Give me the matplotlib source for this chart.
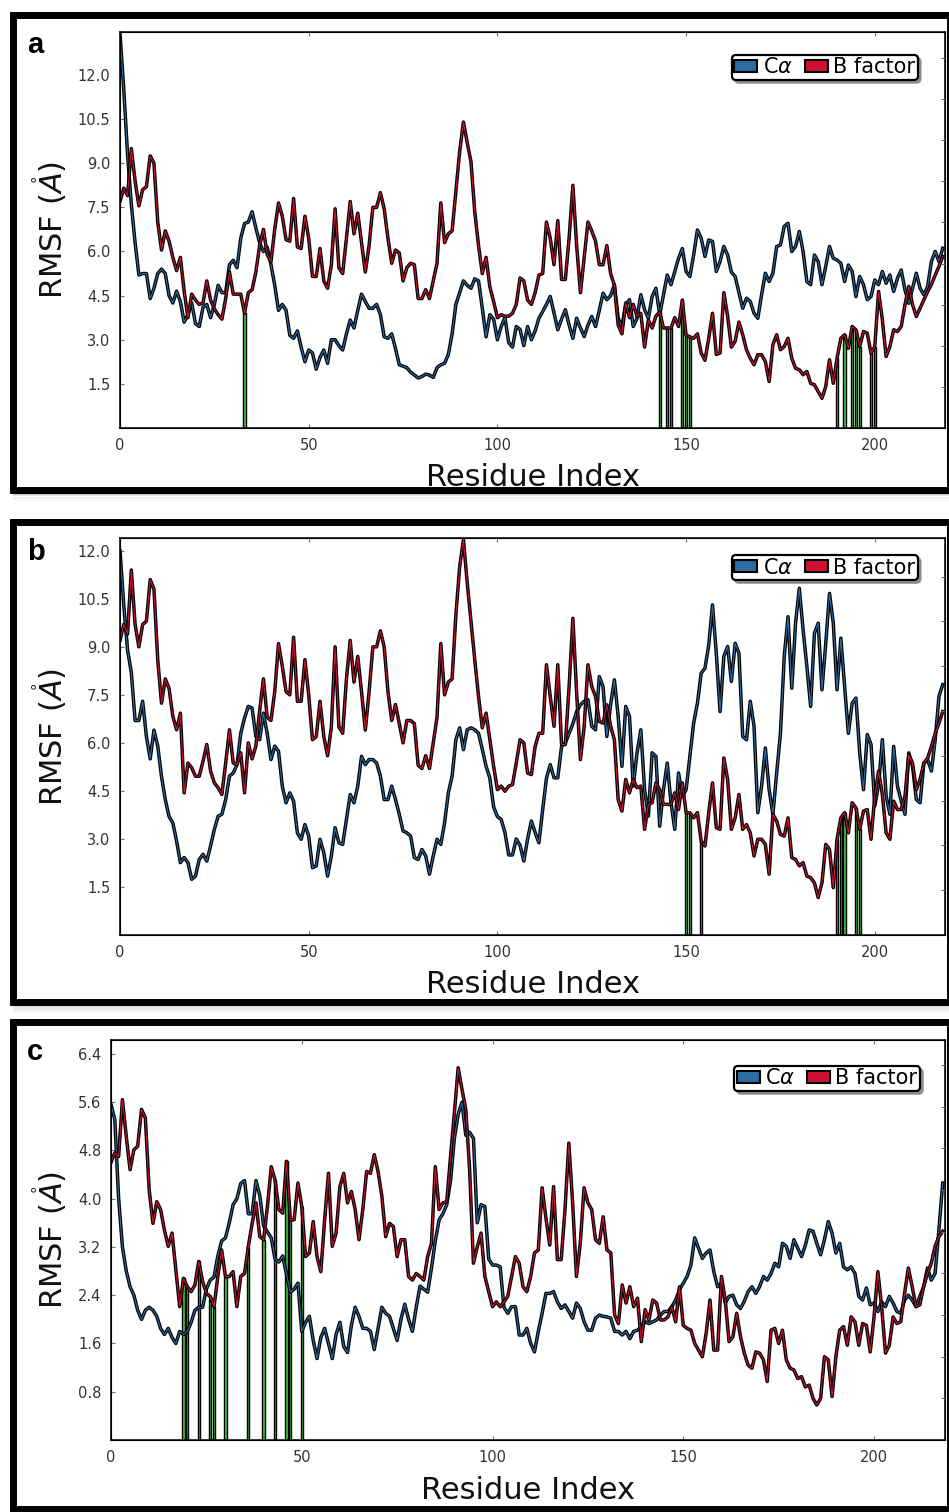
import matplotlib
matplotlib.use("Agg")
import matplotlib.pyplot as plt
import matplotlib.patheffects as pe
from matplotlib.patches import Rectangle, Patch
from matplotlib.ticker import FormatStrFormatter

# ---- data ----
blue_a = [13.4, 11.5, 9.3, 7.6, 6.3, 5.2, 5.25, 5.25, 4.4, 4.75,
          5.25, 5.4, 5.25, 4.5, 4.25, 4.65, 4.3, 3.6, 3.85, 4.25,
          3.55, 3.45, 4.1, 4.2, 3.75, 4.2, 4.85, 4.6, 4.6, 5.55,
          5.7, 5.45, 6.45, 6.95, 7.0, 7.35, 6.8, 6.3, 6.0, 6.15,
          5.55, 4.85, 4.0, 4.2, 4.0, 3.15, 3.05, 3.3, 2.75, 2.25,
          2.65, 2.55, 2.0, 2.4, 2.65, 2.2, 3.0, 3.0, 2.8, 2.65,
          3.2, 3.67, 3.4, 4.0, 4.55, 4.3, 4.07, 4.07, 4.2, 3.85,
          3.1, 3.05, 3.2, 2.7, 2.15, 2.1, 2.05, 1.9, 1.8, 1.7,
          1.75, 1.83, 1.8, 1.72, 2.05, 2.15, 2.2, 2.5, 3.2, 4.2,
          4.6, 5.0, 4.85, 4.75, 5.07, 5.0, 4.07, 3.1, 3.85, 3.7,
          3.0, 3.45, 3.75, 2.9, 2.75, 3.45, 3.35, 2.8, 3.45, 3.0,
          3.3, 3.73, 3.96, 4.2, 4.47, 3.9, 3.34, 3.7, 4.02, 3.5,
          3.05, 3.73, 3.4, 3.11, 3.5, 3.79, 3.45, 4.0, 4.58, 4.36,
          4.5, 4.87, 3.73, 3.45, 4.19, 4.36, 3.45, 3.73, 4.53, 4.02,
          3.73, 4.47, 4.75, 3.85, 4.53, 5.2, 4.87, 5.32, 5.77, 6.1,
          5.32, 5.15, 5.88, 6.73, 6.45, 5.83, 6.39, 6.34, 5.32, 5.66,
          6.17, 5.88, 5.3, 5.15, 4.6, 4.07, 4.41, 4.3, 3.9, 3.73,
          4.53, 5.26, 4.98, 5.26, 6.17, 6.22, 6.85, 6.96, 6.0, 6.17,
          6.68, 6.0, 4.98, 4.87, 5.88, 5.66, 4.87, 5.49, 6.17, 5.77,
          5.71, 5.6, 4.98, 5.54, 5.32, 4.47, 5.15, 4.87, 4.36, 4.47,
          5.03, 4.87, 5.32, 4.92, 5.2, 4.64, 5.09, 5.37, 4.69, 4.24,
          4.75, 5.26, 4.75, 4.53, 4.81, 5.66, 6.0, 5.66, 6.11]
red_a = [7.7, 8.15, 7.9, 9.5, 8.4, 7.55, 8.1, 8.2, 9.25, 9.0,
         7.0, 6.05, 6.7, 6.35, 5.8, 5.35, 5.8, 4.65, 3.75, 4.55,
         4.35, 4.2, 4.25, 5.0, 4.35, 4.05, 3.85, 3.7, 4.4, 5.3,
         4.55, 4.55, 4.55, 3.9, 4.6, 4.7, 5.3, 6.2, 6.75, 5.9,
         5.65, 6.75, 7.65, 7.2, 6.4, 6.35, 7.8, 6.15, 6.1, 7.2,
         6.45, 5.15, 5.15, 6.1, 5.0, 4.75, 5.55, 7.45, 5.45, 5.25,
         6.45, 7.7, 6.6, 7.3, 6.3, 5.3, 6.2, 7.5, 7.5, 8.0,
         7.45, 6.45, 5.6, 6.05, 5.95, 5.0, 5.45, 5.6, 5.55, 4.4,
         4.4, 4.7, 4.4, 5.0, 5.6, 7.65, 6.3, 6.6, 6.7, 8.05,
         9.4, 10.4, 9.7, 9.05, 7.35, 6.2, 5.25, 5.8, 4.8, 4.3,
         3.75, 3.85, 3.8, 3.8, 3.9, 4.2, 5.1, 5.0, 4.35, 4.2,
         4.6, 5.2, 5.25, 7.0, 6.45, 5.55, 7.05, 5.05, 5.05, 6.45,
         8.25, 6.2, 4.6, 5.8, 7.0, 6.7, 6.35, 5.55, 5.55, 6.2,
         5.25, 4.85, 3.5, 3.2, 4.25, 3.75, 4.2, 3.8, 3.9, 2.75,
         3.67, 3.4, 3.8, 3.95, 3.4, 3.4, 3.4, 3.75, 3.45, 4.35,
         3.15, 3.1, 3.05, 3.2, 2.55, 2.3, 3.05, 3.9, 2.5, 2.55,
         4.6, 3.8, 2.75, 2.95, 3.6, 3.17, 2.66, 2.37, 2.15, 2.49,
         2.49, 2.26, 1.58, 2.83, 3.17, 2.66, 2.77, 3.05, 2.37, 2.03,
         1.98, 1.81, 1.92, 1.52, 1.47, 1.24, 1.01, 1.41, 2.32, 1.52,
         2.37, 3.05, 3.17, 2.71, 3.45, 3.34, 2.77, 3.28, 3.22, 2.54,
         2.77, 4.64, 3.68, 2.43, 2.77, 3.34, 3.28, 3.45, 4.19, 4.81,
         4.19, 3.79, 4.07, 4.36, 4.64, 4.87, 5.2, 5.49, 5.83]
bars_a = [33, 143, 145, 146, 149, 150, 151, 190, 192, 194, 195, 196, 199, 200]

blue_b = [12.0, 10.3, 8.9, 8.2, 6.7, 6.7, 7.3, 6.2, 5.5, 6.4,
          5.9, 4.95, 4.23, 3.7, 3.5, 2.93, 2.26, 2.42, 2.26, 1.74,
          1.84, 2.36, 2.52, 2.31, 2.78, 3.3, 3.71, 3.77, 4.23, 4.96,
          5.06, 5.32, 6.3, 6.78, 7.14, 7.09, 6.2, 6.1, 6.93, 6.3,
          5.48, 5.9, 5.74, 4.65, 4.13, 4.44, 4.18, 3.19, 2.99, 3.45,
          3.09, 2.1, 2.16, 2.99, 2.57, 1.84, 2.47, 3.35, 2.88, 2.83,
          3.61, 4.39, 4.13, 4.65, 5.58, 5.32, 5.48, 5.48, 5.37, 4.96,
          4.23, 4.23, 4.65, 4.23, 3.77, 3.25, 3.19, 3.09, 2.42, 2.36,
          2.67, 2.47, 1.9, 2.47, 2.99, 2.83, 3.5, 4.44, 4.96, 6.1,
          6.47, 5.79, 6.41, 6.47, 6.41, 6.3, 5.8, 5.27, 4.9, 4.0,
          3.7, 3.61, 3.2, 2.5, 2.5, 3.0, 2.8, 2.31, 3.0, 3.56,
          3.2, 2.88, 3.92, 4.9, 5.32, 4.91, 4.91, 5.89, 6.0, 6.3,
          6.6, 6.98, 7.19, 7.3, 7.35, 6.52, 6.41, 8.07, 7.76, 6.2,
          7.19, 7.97, 6.83, 5.27, 7.14, 6.83, 4.65, 5.69, 6.41, 4.54,
          3.71, 5.69, 5.58, 3.4, 4.54, 5.37, 4.13, 3.3, 5.06, 4.34,
          4.54, 5.58, 6.62, 7.24, 8.18, 8.33, 9.06, 10.31, 8.8, 6.98,
          8.7, 9.01, 7.92, 9.11, 8.8, 6.2, 6.1, 7.3, 6.52, 3.82,
          4.65, 5.84, 4.54, 3.77, 5.06, 6.3, 8.7, 9.94, 7.71, 9.74,
          10.83, 9.53, 8.39, 7.14, 9.42, 9.74, 7.66, 9.11, 10.67, 9.74,
          7.66, 9.27, 7.76, 6.3, 7.24, 7.4, 5.69, 4.54, 6.26, 5.95,
          4.03, 4.7, 6.1, 4.34, 3.77, 5.89, 4.65, 4.18, 3.77, 5.69,
          5.27, 4.23, 4.13, 5.37, 5.48, 5.12, 6.1, 7.45, 7.82]
red_b = [9.2, 9.7, 9.4, 11.4, 9.7, 9.0, 9.7, 9.8, 11.1, 10.8,
         8.6, 7.24, 8.0, 7.7, 6.83, 6.41, 6.93, 4.44, 5.37, 5.22,
         4.96, 4.96, 5.43, 5.95, 5.12, 4.75, 4.6, 4.39, 5.37, 6.41,
         5.37, 5.32, 5.69, 4.44, 6.0, 5.5, 5.9, 7.0, 8.0, 6.8,
         6.7, 7.6, 9.1, 8.4, 7.6, 7.5, 9.3, 7.3, 7.3, 8.6,
         7.5, 6.1, 6.2, 7.3, 6.2, 5.6, 6.5, 9.0, 6.5, 6.3,
         8.0, 9.2, 7.9, 8.7, 7.6, 6.4, 7.6, 9.0, 9.0, 9.5,
         9.0, 7.6, 6.7, 7.2, 6.6, 6.0, 6.7, 6.7, 6.6, 5.3,
         5.2, 5.6, 5.2, 6.0, 6.8, 9.1, 7.5, 7.9, 8.0, 10.0,
         11.5, 12.35, 11.0, 9.8, 8.6, 7.45, 6.47, 6.93, 6.1, 5.27,
         4.54, 4.65, 4.49, 4.65, 4.7, 5.37, 6.1, 6.0, 5.06, 5.01,
         5.89, 6.3, 6.3, 8.44, 7.45, 6.52, 8.44, 5.95, 5.95, 7.76,
         9.89, 7.55, 5.48, 6.52, 8.44, 7.76, 7.45, 6.67, 6.62, 7.19,
         6.52, 6.1, 4.23, 3.87, 4.86, 4.44, 4.86, 4.6, 4.65, 3.3,
         4.08, 4.13, 4.75, 4.54, 4.08, 4.08, 4.08, 4.44, 3.92, 4.75,
         3.82, 3.82, 3.66, 3.82, 2.93, 2.78, 3.82, 4.75, 3.35, 3.3,
         5.53, 4.86, 3.3, 3.66, 4.39, 3.3, 3.45, 3.19, 2.47, 2.99,
         2.99, 2.83, 1.9, 3.77, 3.56, 3.14, 3.09, 3.66, 2.42, 2.36,
         2.16, 2.26, 1.84, 1.79, 1.63, 1.17, 1.63, 2.83, 2.67, 1.48,
         2.99, 3.66, 3.82, 3.19, 4.13, 3.97, 3.3, 3.87, 3.92, 2.99,
         4.34, 5.12, 4.39, 3.19, 2.99, 4.18, 3.92, 3.92, 4.34, 5.63,
         5.37, 4.54, 4.86, 5.37, 5.53, 5.89, 6.3, 6.62, 6.98]
bars_b = [150, 151, 154, 190, 191, 192, 195, 196]

blue_c = [5.56, 5.31, 4.0, 3.2, 2.8, 2.54, 2.4, 2.15, 2.0, 2.15,
          2.2, 2.15, 2.05, 1.85, 1.75, 1.85, 1.7, 1.6, 1.8, 1.75,
          1.8, 1.95, 2.15, 2.2, 2.2, 2.5, 2.65, 2.7, 3.05, 3.3,
          3.35, 3.6, 3.9, 4.0, 4.25, 4.3, 3.75, 3.75, 4.3, 4.05,
          3.55, 3.45, 3.35, 3.0, 2.95, 3.05, 2.75, 2.45, 2.5, 2.6,
          1.8, 1.95, 2.05, 1.65, 1.35, 1.7, 1.85, 1.6, 1.35, 1.75,
          1.95, 1.55, 1.45, 1.9, 2.2, 2.05, 1.85, 1.85, 1.8, 1.5,
          1.85, 2.2, 2.1, 2.05, 1.85, 1.65, 2.0, 2.25, 2.0, 1.8,
          2.2, 2.55, 2.5, 2.45, 2.85, 3.3, 3.65, 3.75, 3.9, 4.3,
          5.0, 5.4, 5.6, 5.05, 5.1, 5.0, 3.6, 3.9, 3.87, 3.0,
          2.9, 2.9, 2.87, 2.2, 2.1, 2.21, 2.21, 1.74, 1.74, 1.85,
          1.6, 1.46, 1.8, 2.1, 2.43, 2.43, 2.46, 2.29, 2.18, 2.24,
          2.13, 2.02, 2.27, 2.18, 1.96, 1.82, 1.82, 2.02, 2.07, 2.05,
          2.04, 2.02, 1.8, 1.8, 1.74, 1.8, 1.68, 1.8, 1.82, 1.88,
          1.96, 1.93, 1.96, 1.99, 2.07, 2.13, 2.13, 2.21, 2.32, 2.49,
          2.6, 2.71, 2.9, 3.35, 3.18, 3.01, 3.1, 3.15, 2.79, 2.54,
          2.6, 2.27, 2.38, 2.4, 2.24, 2.18, 2.3, 2.46, 2.54, 2.43,
          2.54, 2.71, 2.65, 2.76, 2.93, 2.87, 3.26, 3.21, 3.01, 3.32,
          3.18, 3.04, 3.23, 3.48, 3.46, 3.26, 3.07, 3.32, 3.62, 3.43,
          3.1, 3.26, 2.87, 2.82, 2.87, 2.76, 2.38, 2.32, 2.52, 2.24,
          2.27, 2.13, 2.29, 2.21, 2.38, 2.27, 2.13, 2.1, 2.32, 2.4,
          2.32, 2.21, 2.38, 2.54, 2.85, 2.65, 2.76, 3.48, 4.26]
red_c = [4.6, 4.76, 4.7, 5.64, 5.03, 4.48, 4.81, 4.87, 5.48, 5.34,
         4.15, 3.59, 3.95, 3.82, 3.48, 3.21, 3.43, 2.82, 2.21, 2.68,
         2.54, 2.46, 2.57, 2.96, 2.63, 2.43, 2.38, 2.21, 2.71, 3.15,
         2.71, 2.71, 2.79, 2.21, 2.71, 2.76, 3.21, 3.59, 3.93, 3.37,
         3.32, 3.87, 4.53, 4.31, 3.82, 3.76, 4.62, 3.65, 3.65, 4.26,
         3.87, 3.04, 3.1, 3.62, 3.04, 2.79, 3.65, 4.42, 3.21, 3.43,
         4.2, 4.42, 3.93, 4.12, 3.82, 3.32, 3.82, 4.45, 4.42, 4.73,
         4.45, 4.04, 3.37, 3.59, 3.54, 3.04, 3.32, 3.32, 2.71, 2.65,
         2.76, 2.71, 2.65, 3.04, 3.26, 4.53, 3.82, 3.93, 3.95, 4.7,
         5.42, 6.17, 5.81, 5.48, 4.48, 2.93, 3.2, 3.43, 2.71, 2.46,
         2.21, 2.29, 2.21, 2.29, 2.38, 2.71, 3.04, 2.93, 2.54, 2.46,
         2.71, 3.1, 3.15, 4.18, 3.68, 3.23, 4.2, 2.99, 2.99, 3.82,
         4.92, 3.93, 2.71, 3.26, 4.18, 3.93, 3.82, 3.32, 3.26, 3.7,
         3.15, 3.1, 2.07, 1.93, 2.57, 2.27, 2.54, 2.21, 2.35, 1.63,
         2.16, 1.99, 2.32, 2.27, 1.99, 1.99, 2.04, 2.21, 1.96, 2.54,
         1.9, 1.85, 1.82, 1.6, 1.49, 1.38, 1.77, 2.32, 1.49, 1.49,
         2.71, 2.32, 1.63, 1.71, 2.1, 1.71, 1.44, 1.24, 1.19, 1.46,
         1.44, 1.33, 0.97, 1.82, 1.85, 1.6, 1.82, 1.33, 1.19, 1.16,
         1.02, 1.05, 0.88, 0.91, 0.69, 0.58, 0.69, 1.38, 1.33, 0.72,
         1.38, 1.82, 1.88, 1.57, 2.04, 1.96, 1.57, 1.93, 1.9, 1.46,
         2.04, 2.79, 2.21, 1.44, 1.57, 2.04, 1.93, 1.96, 2.43, 2.85,
         2.54, 2.21, 2.24, 2.54, 2.76, 2.93, 3.21, 3.37, 3.46]
bars_c = [19, 20, 23, 26, 27, 30, 36, 40, 43, 46, 47, 50]

yticks_ab = [1.5, 3.0, 4.5, 6.0, 7.5, 9.0, 10.5, 12.0]
yticks_c = [0.8, 1.6, 2.4, 3.2, 4.0, 4.8, 5.6, 6.4]
xticks = [0, 50, 100, 150, 200]

BLUE = "#2b6ca3"
RED = "#cc1133"
GREEN = "#3ad43a"

W, H = 949, 1512
fig = plt.figure(figsize=(W / 100, H / 100), dpi=100)


def rect(l, t, r, b):
    return [l / W, 1 - b / H, (r - l) / W, (b - t) / H]


def panel(letter, ca, bf, bars, axpx, ymax, yticks, twin_top, leg_anchor,
          frame, letter_base):
    # thick black frame around the panel plus soft drop shadow
    fl, ft, fr, fb = frame
    for k, a in enumerate([0.22, 0.15, 0.09, 0.04]):
        fig.add_artist(Rectangle((fl / W, 1 - (fb + 5 + 2 * k) / H), (W - fl) / W, 2 / H,
                                 transform=fig.transFigure, color="0.35", alpha=a, lw=0))
    fig.add_artist(Rectangle((fl / W, 1 - fb / H), (fr - fl) / W, (fb - ft) / H,
                             transform=fig.transFigure, fill=False, ec="black", lw=5.0))
    fig.text(27 / W, 1 - letter_base / H, letter, fontsize=21, fontweight="bold",
             family="Liberation Sans", ha="left", va="baseline")

    ax = fig.add_axes(rect(*axpx))
    res = list(range(len(ca)))
    ax.bar(bars, [bf[i] for i in bars], width=0.6, color=GREEN, edgecolor="black",
           linewidth=1.0, zorder=2)
    stroke = [pe.Stroke(linewidth=2.5, foreground="black"), pe.Normal()]
    ax.plot(res, ca, color=BLUE, lw=0.8, zorder=3, path_effects=stroke)
    ax.plot(res, bf, color=RED, lw=0.8, zorder=4, path_effects=stroke)

    ax.set_xlim(0, 218.6)
    ax.set_ylim(0, ymax)
    ax.set_xticks(xticks)
    ax.set_yticks(yticks)
    ax.yaxis.set_major_formatter(FormatStrFormatter("%.1f"))
    ax.tick_params(direction="in", length=3, width=0.8, color="0.45", labelsize=10.5,
                   labelcolor="#333333", top=True, right=False)
    ax.tick_params(axis="x", pad=7)
    ax.tick_params(axis="y", pad=7)
    for s in ax.spines.values():
        s.set_linewidth(1.1)

    # right-hand ticks belong to a second (unlabelled) scale
    tw = ax.twinx()
    tw.set_ylim(0, twin_top)
    tw.set_yticks(range(1, int(twin_top) + 1))
    tw.tick_params(direction="in", length=3, width=0.8, color="0.45", labelright=False)

    ax.text(0.5, -0.147, "Residue Index", transform=ax.transAxes, ha="center",
            va="baseline", fontsize=22, color="#111111")
    cy = (axpx[1] + axpx[3]) / 2
    fig.text(50 / W, 1 - cy / H, r"RMSF ($\mathring{A}$)", rotation=90, ha="center",
             va="center", fontsize=22, color="#111111")

    handles = [Patch(facecolor=BLUE, edgecolor="black", lw=1.5),
               Patch(facecolor=RED, edgecolor="black", lw=1.5)]
    leg = ax.legend(handles, [r"C$\alpha$", "B factor"], loc="upper right",
                    bbox_to_anchor=leg_anchor, ncol=2, fontsize=15, handlelength=1.1,
                    handleheight=0.5, handletextpad=0.25, columnspacing=0.6,
                    borderpad=0.12, borderaxespad=0, fancybox=True, framealpha=1,
                    edgecolor="black", shadow={"color": "0.4", "alpha": 0.6})
    leg.get_frame().set_linewidth(1.6)
    leg.set_zorder(10)


panel("a", blue_a, red_a, bars_a, (120, 32, 945, 428), 13.46, yticks_ab, 9.63,
      (0.967, 0.942), (12.5, 15, 950, 489.5), 53)
panel("b", blue_b, red_b, bars_b, (120, 538, 945, 935), 12.4, yticks_ab, 8.86,
      (0.967, 0.957), (12.5, 521.5, 950, 1001.5), 560)
panel("c", blue_c, red_c, bars_c, (111, 1040, 945, 1440), 6.63, yticks_c, 9.6,
      (0.970, 0.935), (12.5, 1021.5, 950, 1509), 1060)

fig.savefig("out.png", dpi=100)
